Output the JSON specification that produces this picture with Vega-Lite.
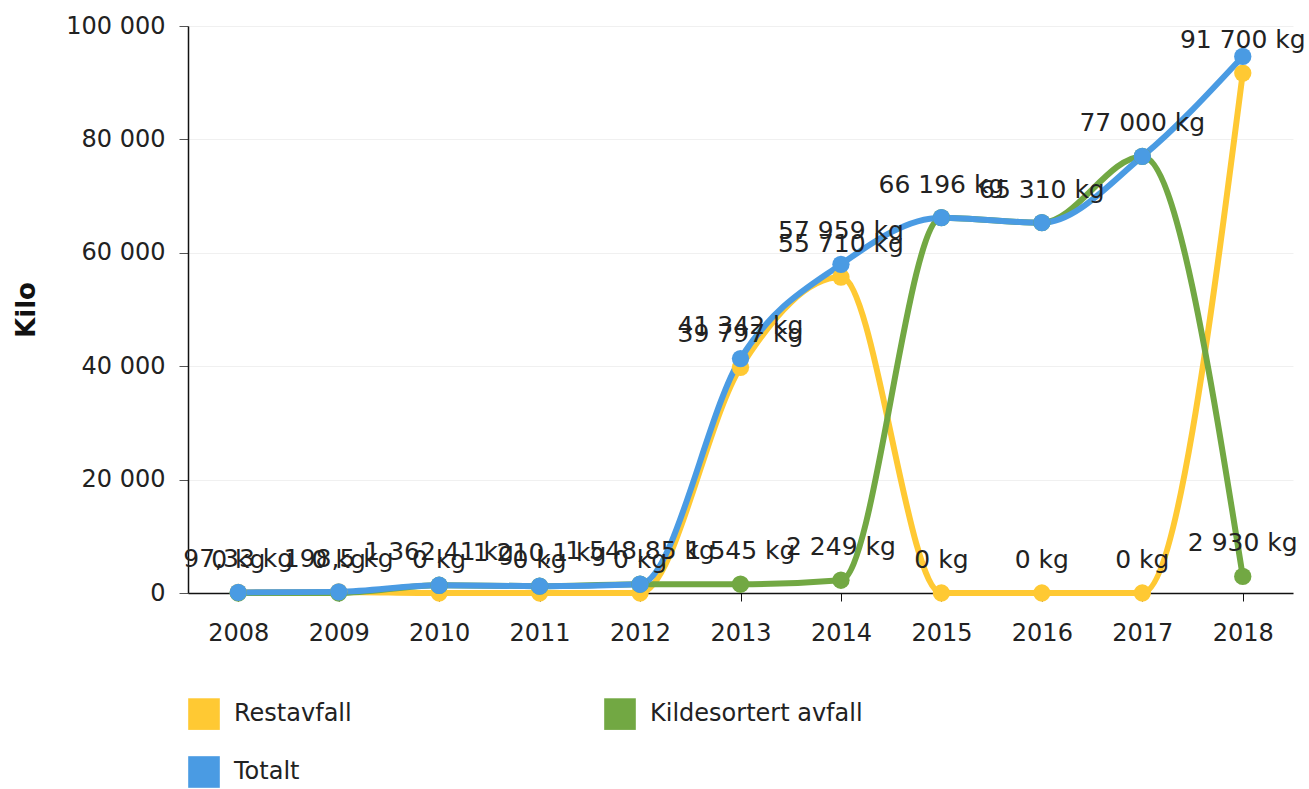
{
  "$schema": "https://vega.github.io/schema/vega-lite/v6.json",
  "autosize": "none",
  "width": 1105,
  "height": 567,
  "padding": {"left": 188, "top": 26, "right": 16, "bottom": 196},
  "background": "white",
  "config": {
    "font": "DejaVu Sans",
    "view": {"stroke": null}
  },
  "data": {
    "values": [
      {"year": "2008", "series": "Restavfall", "kg": 97.33, "label": ""},
      {"year": "2009", "series": "Restavfall", "kg": 198.5, "label": ""},
      {"year": "2010", "series": "Restavfall", "kg": 0, "label": "0 kg"},
      {"year": "2011", "series": "Restavfall", "kg": 0, "label": "0 kg"},
      {"year": "2012", "series": "Restavfall", "kg": 0, "label": "0 kg"},
      {"year": "2013", "series": "Restavfall", "kg": 39797, "label": "39 797 kg"},
      {"year": "2014", "series": "Restavfall", "kg": 55710, "label": "55 710 kg"},
      {"year": "2015", "series": "Restavfall", "kg": 0, "label": "0 kg"},
      {"year": "2016", "series": "Restavfall", "kg": 0, "label": "0 kg"},
      {"year": "2017", "series": "Restavfall", "kg": 0, "label": "0 kg"},
      {"year": "2018", "series": "Restavfall", "kg": 91700, "label": "91 700 kg"},
      {"year": "2008", "series": "Kildesortert avfall", "kg": 0, "label": "0 kg"},
      {"year": "2009", "series": "Kildesortert avfall", "kg": 0, "label": "0 kg"},
      {"year": "2010", "series": "Kildesortert avfall", "kg": 1362.41, "label": ""},
      {"year": "2011", "series": "Kildesortert avfall", "kg": 1210.1, "label": ""},
      {"year": "2012", "series": "Kildesortert avfall", "kg": 1548.85, "label": ""},
      {"year": "2013", "series": "Kildesortert avfall", "kg": 1545, "label": "1 545 kg"},
      {"year": "2014", "series": "Kildesortert avfall", "kg": 2249, "label": "2 249 kg"},
      {"year": "2015", "series": "Kildesortert avfall", "kg": 66196, "label": ""},
      {"year": "2016", "series": "Kildesortert avfall", "kg": 65310, "label": ""},
      {"year": "2017", "series": "Kildesortert avfall", "kg": 77000, "label": ""},
      {"year": "2018", "series": "Kildesortert avfall", "kg": 2930, "label": "2 930 kg"},
      {"year": "2008", "series": "Totalt", "kg": 97.33, "label": "97,33 kg"},
      {"year": "2009", "series": "Totalt", "kg": 198.5, "label": "198,5 kg"},
      {"year": "2010", "series": "Totalt", "kg": 1362.41, "label": "1 362,41 kg"},
      {"year": "2011", "series": "Totalt", "kg": 1210.1, "label": "1 210,1 kg"},
      {"year": "2012", "series": "Totalt", "kg": 1548.85, "label": "1 548,85 kg"},
      {"year": "2013", "series": "Totalt", "kg": 41342, "label": "41 342 kg"},
      {"year": "2014", "series": "Totalt", "kg": 57959, "label": "57 959 kg"},
      {"year": "2015", "series": "Totalt", "kg": 66196, "label": "66 196 kg"},
      {"year": "2016", "series": "Totalt", "kg": 65310, "label": "65 310 kg"},
      {"year": "2017", "series": "Totalt", "kg": 77000, "label": "77 000 kg"},
      {"year": "2018", "series": "Totalt", "kg": 94630, "label": ""}
    ]
  },
  "encoding": {
    "x": {
      "field": "year",
      "type": "ordinal",
      "scale": {"type": "point", "padding": 0.5},
      "axis": {
        "title": null,
        "labelAngle": 0,
        "labelFontSize": 24,
        "labelColor": "#222222",
        "labelPadding": 20,
        "domainColor": "#111111",
        "domainWidth": 1.5,
        "tickColor": "#111111",
        "tickSize": 8,
        "tickWidth": 1,
        "grid": false
      }
    },
    "y": {
      "field": "kg",
      "type": "quantitative",
      "scale": {"domain": [0, 100000], "nice": false},
      "axis": {
        "title": "Kilo",
        "titleFontSize": 26,
        "titleFontWeight": "bold",
        "titleColor": "#111111",
        "titlePadding": 26,
        "values": [0, 20000, 40000, 60000, 80000, 100000],
        "labelExpr": "replace(format(datum.value, ','), ',', ' ')",
        "labelFontSize": 24,
        "labelColor": "#222222",
        "labelPadding": 14,
        "domainColor": "#111111",
        "domainWidth": 1.5,
        "tickColor": "#555555",
        "tickSize": 9,
        "gridColor": "#f0f0f0",
        "gridWidth": 1
      }
    }
  },
  "layer": [
    {
      "mark": {"type": "line", "interpolate": "monotone", "strokeWidth": 6},
      "encoding": {
        "stroke": {
          "field": "series",
          "type": "nominal",
          "scale": {
            "domain": ["Restavfall", "Kildesortert avfall", "Totalt"],
            "range": ["#FFC933", "#72A843", "#4A9BE3"]
          },
          "legend": {
            "title": null,
            "orient": "none",
            "direction": "horizontal",
            "legendX": 0,
            "legendY": 672,
            "columns": 2,
            "columnPadding": 252,
            "rowPadding": 26,
            "symbolType": "square",
            "symbolSize": 1000,
            "symbolStrokeWidth": 0,
            "labelFontSize": 24,
            "labelLimit": 500,
            "labelColor": "#222222",
            "labelOffset": 14
          }
        }
      }
    },
    {
      "mark": {"type": "point", "filled": true, "opacity": 1, "size": 300},
      "encoding": {
        "color": {
          "field": "series",
          "type": "nominal",
          "scale": {
            "domain": ["Restavfall", "Kildesortert avfall", "Totalt"],
            "range": ["#FFC933", "#72A843", "#4A9BE3"]
          },
          "legend": {
            "title": null,
            "orient": "none",
            "direction": "horizontal",
            "legendX": 0,
            "legendY": 672,
            "columns": 2,
            "columnPadding": 252,
            "rowPadding": 26,
            "symbolType": "square",
            "symbolSize": 1000,
            "symbolStrokeWidth": 0,
            "labelFontSize": 24,
            "labelLimit": 500,
            "labelColor": "#222222",
            "labelOffset": 14
          }
        }
      }
    },
    {
      "transform": [{"filter": "datum.label != ''"}],
      "mark": {"type": "text", "dy": -33, "fontSize": 25, "color": "#222222", "baseline": "middle"},
      "encoding": {
        "text": {"field": "label"}
      }
    }
  ]
}
